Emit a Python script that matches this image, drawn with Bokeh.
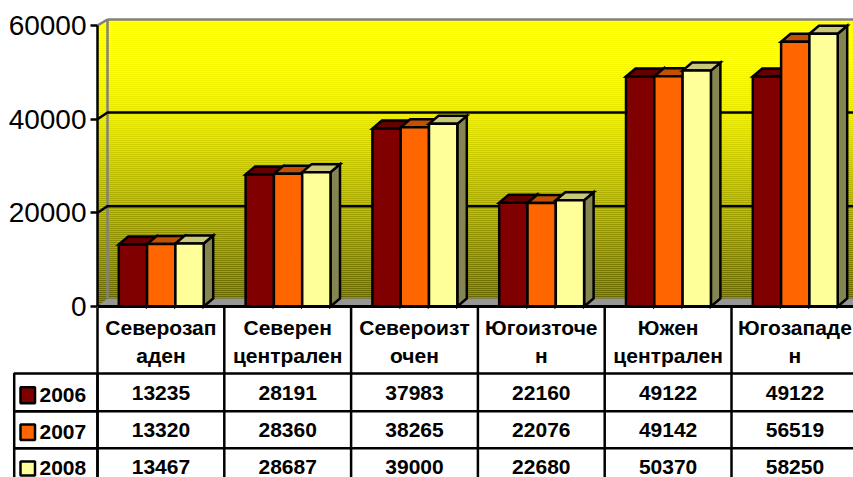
import numpy as np
from bokeh.plotting import figure
from bokeh.embed import file_html
from bokeh.resources import INLINE
from bokeh.models import Range1d, FixedTicker

categories = [["Северозап", "аден"], ["Северен", "централен"], ["Североизт", "очен"],
              ["Югоизточе", "н"], ["Южен", "централен"], ["Югозападе", "н"]]
years = ["2006", "2007", "2008"]
v2006 = [13235, 28191, 37983, 22160, 49122, 49122]
v2007 = [13320, 28360, 38265, 22076, 49142, 56519]
v2008 = [13467, 28687, 39000, 22680, 50370, 58250]
series = [v2006, v2007, v2008]
front = ["#800000", "#FF6600", "#FFFF99"]
top = ["#660000", "#C25000", "#C8C878"]
side = ["#400000", "#803300", "#858552"]
ticks = [0, 20000, 40000, 60000]

W, H = 853, 477
FL, Y0, Y60 = 97.0, 306.0, 25.0
CW = 126.8
FONT = "Liberation Sans"
def X(px): return (px - FL) / CW
def Y(py): return (Y0 - py) / (Y0 - Y60) * 60000

p = figure(width=W, height=H, output_backend="svg", toolbar_location=None,
           x_range=Range1d(X(FL), X(W)), y_range=Range1d(Y(H), Y(0)),
           min_border_left=int(FL), min_border_right=0, min_border_top=0, min_border_bottom=0,
           background_fill_color="white", border_fill_color="white")
p.styles = {"position": "absolute", "left": "0", "top": "0"}
p.outline_line_color = None
p.grid.visible = False
p.xaxis.visible = False
ax = p.yaxis[0]
ax.ticker = FixedTicker(ticks=ticks)
ax.bounds = (0, 60000)
ax.formatter.use_scientific = False
ax.major_label_text_font = FONT
ax.major_label_text_font_size = "28px"
ax.major_label_text_color = "black"
ax.major_label_standoff = 4
ax.major_tick_out = 7
ax.major_tick_in = 0
ax.minor_tick_out = 0
ax.minor_tick_in = 0
ax.axis_line_width = 2.5
ax.major_tick_line_width = 2.5
ax.axis_line_color = "black"
ax.major_tick_line_color = "black"

# gradient wall
ys = np.arange(19, 306, 2.0)
lev = np.interp(ys, [19, 60, 118, 170, 240, 298], [255, 250, 228, 190, 140, 102])
cols = ["#%02x%02x00" % (int(l), int(l)) for l in lev]
p.quad(left=X(FL), right=X(W), top=Y(ys), bottom=Y(ys + 2), fill_color=cols, line_color=None)
p.patch(X(np.array([FL, 107, FL])), Y(np.array([25, 19, 19])), fill_color="white", line_color=None)
# floor
p.patch(X(np.array([FL, 107, W, W])), Y(np.array([306, 298, 298, 306])), fill_color="#969696", line_color=None)
# wall edges
GR = "#808080"
p.line(X(np.array([FL, 107, 107])), Y(np.array([25, 19, 298])), line_color=GR, line_width=2.5)
p.line(X(np.array([107, W])), Y(np.array([19, 19])), line_color=GR, line_width=2.5)
# gridlines
for t in ticks[1:-1]:
    py = Y0 - t / 60000 * (Y0 - Y60)
    p.line(X(np.array([FL, 107, W])), [t, Y(py - 6.7), Y(py - 6.7)], line_color="black", line_width=2.5)

# bars
BW = 28.3 / CW
GAP = 21.3 / CW
DX = 9.5 / CW
DY = Y(298)
for i in range(6):
    for j, s in enumerate(series):
        v = s[i]
        x0 = i + GAP + j * BW
        x1 = x0 + BW
        p.patch([x1, x1 + DX, x1 + DX, x1], [v, v + DY, DY, 0], fill_color=side[j],
                line_color="black", line_width=2.5, line_join="miter")
        p.patch([x0, x0 + DX, x1 + DX, x1], [v, v + DY, v + DY, v], fill_color=top[j],
                line_color="black", line_width=2.5, line_join="miter")
        p.quad(left=x0, right=x1, bottom=0, top=v, fill_color=front[j],
               line_color="black", line_width=2.5)

# table
rows_px = [373, 410.7, 447.7]
p.line([X(FL), X(W)], [0, 0], line_color="black", line_width=3)
for ry in rows_px:
    p.line([X(FL), X(W)], [Y(ry), Y(ry)], line_color="black", line_width=2.5)
for i in range(1, 6):
    p.line([i, i], [0, Y(H)], line_color="black", line_width=2.5)
centers_y = [392.7, 429.3, 466.7]
for i, c in enumerate(categories):
    p.text([i + 0.5], [Y(326.5)], text=[c[0]], text_align="center", text_baseline="middle",
           text_font={"value": FONT}, text_font_style="bold", text_font_size="21px", text_color="black")
    p.text([i + 0.5], [Y(354.5)], text=[c[1]], text_align="center", text_baseline="middle",
           text_font={"value": FONT}, text_font_style="bold", text_font_size="21px", text_color="black")
    for cy, s in zip(centers_y, series):
        p.text([i + 0.5], [Y(cy)], text=[str(s[i])], text_align="center", text_baseline="middle",
               text_font={"value": FONT}, text_font_style="bold", text_font_size="21px", text_color="black")

# legend cells: a small transparent figure laid over the table's left end
LT = 307
q = figure(width=99, height=H - LT, output_backend="svg", toolbar_location=None,
           x_range=Range1d(X(0), X(99)), y_range=Range1d(Y(H), Y(LT)),
           min_border_left=0, min_border_right=0, min_border_top=0, min_border_bottom=0,
           x_axis_type=None, y_axis_type=None,
           background_fill_alpha=0, border_fill_alpha=0)
q.styles = {"position": "absolute", "left": "0", "top": f"{LT}px"}
q.outline_line_color = None
q.grid.visible = False
q.line([0, 0], [Y(LT), Y(H)], line_color="black", line_width=2.5)
tops = [373, 410.7, 447.7]
bots = [410.7, 447.7, 490]
key_t = [386.7, 424, 461]
key_b = [402.7, 439.5, 475]
lab_y = [394, 431.5, 467]
for k, y in enumerate(years):
    q.quad(left=X(13.7), right=X(FL), top=Y(tops[k]), bottom=Y(bots[k]),
           fill_alpha=0, line_color="black", line_width=2.5)
    q.quad(left=X(20), right=X(34.5), top=Y(key_t[k]), bottom=Y(key_b[k]),
           fill_color=front[k], line_color="black", line_width=2.5)
    q.text([X(39)], [Y(lab_y[k])], text=[y], text_align="left", text_baseline="middle",
           text_font={"value": FONT}, text_font_style="bold", text_font_size="21px", text_color="black")

open("out.html", "w").write(file_html([p, q], INLINE))
